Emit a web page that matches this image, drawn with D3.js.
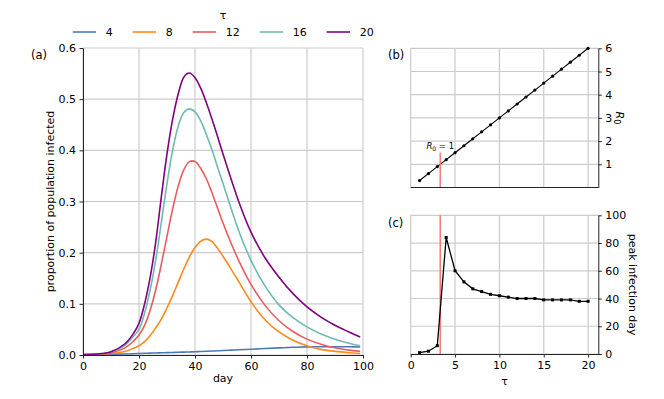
<!DOCTYPE html>
<html>
<head>
<meta charset="utf-8">
<script src="https://cdn.jsdelivr.net/npm/d3@7"></script>
<style>
body { margin: 0; background: #fff; }
text { font-family: "DejaVu Sans", sans-serif; fill: #000; }
</style>
</head>
<body>
<svg id="chart" width="664" height="399"></svg>
<script>
// values
var days = [0, 5, 10, 15, 18, 20, 22, 24, 26, 28, 30, 32, 34, 36, 38, 40, 42, 44, 46, 48, 50, 53, 56, 60, 65, 70, 75, 80, 85, 90, 95, 99];

var tauLegend = [4, 8, 12, 16, 20];
var seriesColors = ['#4a7ab4', '#ff8a1c', '#eb5b5e', '#6fbab0', '#800080'];

var infectedTau4 = [0.0005, 0.001, 0.0015, 0.002, 0.0025, 0.003, 0.0033, 0.0036, 0.004, 0.0043, 0.0046, 0.005, 0.0053, 0.0057, 0.006, 0.0064, 0.0068, 0.0072, 0.0077, 0.0082, 0.0087, 0.0095, 0.0103, 0.0113, 0.0126, 0.0139, 0.015, 0.0158, 0.0162, 0.0162, 0.016, 0.0155];
var infectedTau8 = [0.001, 0.0015, 0.003, 0.007, 0.013, 0.018, 0.026, 0.038, 0.053, 0.07, 0.092, 0.116, 0.142, 0.168, 0.192, 0.21, 0.222, 0.2265, 0.222, 0.209, 0.193, 0.167, 0.14, 0.104, 0.069, 0.045, 0.029, 0.018, 0.011, 0.007, 0.0045, 0.003];
var infectedTau12 = [0.001, 0.0015, 0.004, 0.014, 0.027, 0.039, 0.058, 0.088, 0.128, 0.178, 0.232, 0.285, 0.33, 0.362, 0.378, 0.378, 0.365, 0.345, 0.318, 0.288, 0.258, 0.217, 0.18, 0.138, 0.097, 0.067, 0.046, 0.031, 0.021, 0.014, 0.0095, 0.007];
var infectedTau16 = [0.001, 0.002, 0.006, 0.019, 0.036, 0.05, 0.082, 0.128, 0.187, 0.26, 0.335, 0.4, 0.447, 0.474, 0.481, 0.475, 0.458, 0.432, 0.402, 0.368, 0.335, 0.285, 0.237, 0.185, 0.135, 0.098, 0.073, 0.055, 0.041, 0.031, 0.023, 0.018];
var infectedTau20 = [0.001, 0.002, 0.0065, 0.022, 0.042, 0.062, 0.1, 0.152, 0.222, 0.31, 0.393, 0.46, 0.51, 0.543, 0.551, 0.542, 0.522, 0.494, 0.462, 0.428, 0.393, 0.342, 0.294, 0.24, 0.19, 0.152, 0.12, 0.094, 0.074, 0.058, 0.045, 0.035];
var infectedSeries = [infectedTau4, infectedTau8, infectedTau12, infectedTau16, infectedTau20];

var tauValues = [1, 2, 3, 4, 5, 6, 7, 8, 9, 10, 11, 12, 13, 14, 15, 16, 17, 18, 19, 20];
var r0Values = [0.3, 0.6, 0.9, 1.2, 1.5, 1.8, 2.1, 2.4, 2.7, 3.0, 3.3, 3.6, 3.9, 4.2, 4.5, 4.8, 5.1, 5.4, 5.7, 6.0];
var peakDays = [1, 2, 6, 84, 60, 52, 47, 45, 43, 42, 41, 40, 40, 40, 39, 39, 39, 39, 38, 38];
var tauThreshold = 3.33;

var dayTicks = [0, 20, 40, 60, 80, 100];
var propTicks = [0, 0.1, 0.2, 0.3, 0.4, 0.5, 0.6];
var tauTicks = [0, 5, 10, 15, 20];
var r0Ticks = [1, 2, 3, 4, 5, 6];
var peakTicks = [0, 20, 40, 60, 80, 100];

var svg = d3.select('#chart');
var gridColor = '#cccccc';
var spineColor = '#262626';
var fontSize = '11px';

//style an axis group: spine, ticks, labels
var styleAxis = function(g){
    g.select('.domain').attr('stroke', spineColor).attr('stroke-width', 1);
    g.selectAll('.tick line').attr('stroke', spineColor).attr('stroke-width', 1);
    g.selectAll('.tick text').attr('font-size', fontSize).attr('fill', '#000')
        .style('font-family', '"DejaVu Sans", sans-serif');
};

var drawGrid = function(x, y, xTicks, yTicks){
    var g = svg.append('g').attr('class', 'grid');
    g.selectAll('line.gx').data(xTicks).enter().append('line')
        .attr('class', 'gx')
        .attr('x1', function(d){ return x(d); })
        .attr('x2', function(d){ return x(d); })
        .attr('y1', y.range()[0])
        .attr('y2', y.range()[1])
        .attr('stroke', gridColor).attr('stroke-width', 1.2);
    g.selectAll('line.gy').data(yTicks).enter().append('line')
        .attr('class', 'gy')
        .attr('x1', x.range()[0])
        .attr('x2', x.range()[1])
        .attr('y1', function(d){ return y(d); })
        .attr('y2', function(d){ return y(d); })
        .attr('stroke', gridColor).attr('stroke-width', 1.2);
};

/* ---- panel (a) ---- */
var xa = d3.scaleLinear().domain([0, 100]).range([83, 363]);
var ya = d3.scaleLinear().domain([0, 0.6]).range([355, 48]);

drawGrid(xa, ya, dayTicks, propTicks);

var line = d3.line()
    .x(function(d){ return xa(d[0]); })
    .y(function(d){ return ya(d[1]); })
    .curve(d3.curveCatmullRom.alpha(0.5));

infectedSeries.forEach(function(vals, i){
    svg.append('path')
        .datum(d3.zip(days, vals))
        .attr('d', line)
        .attr('fill', 'none')
        .attr('stroke', seriesColors[i])
        .attr('stroke-width', 1.6);
});

svg.append('g')
    .attr('transform', 'translate(' + xa(0) + ',0)')
    .call(d3.axisLeft(ya).tickValues(propTicks).tickFormat(d3.format('.1f'))
        .tickSize(3.5).tickPadding(3.5).tickSizeOuter(0))
    .call(styleAxis);

svg.append('g')
    .attr('transform', 'translate(0,' + ya(0) + ')')
    .call(d3.axisBottom(xa).tickValues(dayTicks).tickFormat(d3.format('d'))
        .tickSize(3.5).tickPadding(3.5).tickSizeOuter(0))
    .call(styleAxis);

svg.append('text')
    .attr('transform', 'translate(54,' + ((ya(0) + ya(0.6)) / 2) + ') rotate(-90)')
    .attr('text-anchor', 'middle')
    .attr('font-size', fontSize)
    .text('proportion of population infected');

svg.append('text')
    .attr('x', (xa(0) + xa(100)) / 2).attr('y', 382)
    .attr('text-anchor', 'middle')
    .attr('font-size', fontSize)
    .text('day');

svg.append('text').attr('x', 31).attr('y', 59).attr('font-size', '11.5px').text('(a)');

// legend, columns laid out by label width
svg.append('text')
    .attr('x', 223).attr('y', 19)
    .attr('text-anchor', 'middle')
    .attr('font-size', fontSize)
    .text('τ');

var lx = 72.7;
tauLegend.forEach(function(t, i){
    svg.append('line')
        .attr('x1', lx).attr('x2', lx + 23.3)
        .attr('y1', 32).attr('y2', 32)
        .attr('stroke', seriesColors[i]).attr('stroke-width', 1.6);
    var label = svg.append('text')
        .attr('x', lx + 33).attr('y', 36)
        .attr('font-size', fontSize)
        .text(t);
    lx += 33 + label.node().getComputedTextLength() + 20;
});

/* ---- panel (b) ---- */
var xr = d3.scaleLinear().domain([0, 21.15]).range([410.7, 598.3]);
var yb = d3.scaleLinear().domain([0, 6]).range([187.5, 48.3]);

drawGrid(xr, yb, tauTicks, r0Ticks);

svg.append('path')
    .datum(d3.zip(tauValues, r0Values))
    .attr('d', d3.line().x(function(d){ return xr(d[0]); }).y(function(d){ return yb(d[1]); }))
    .attr('fill', 'none').attr('stroke', '#000').attr('stroke-width', 1.1);

svg.selectAll('circle.r0').data(d3.zip(tauValues, r0Values)).enter().append('circle')
    .attr('class', 'r0')
    .attr('cx', function(d){ return xr(d[0]); })
    .attr('cy', function(d){ return yb(d[1]); })
    .attr('r', 1.6).attr('fill', '#000');

svg.append('line')
    .attr('x1', xr(tauThreshold)).attr('x2', xr(tauThreshold))
    .attr('y1', yb(0)).attr('y2', yb(1.5))
    .attr('stroke', '#f47a7a').attr('stroke-width', 1.5);

var r0Label = svg.append('text')
    .attr('x', xr(tauThreshold)).attr('y', yb(1.5) - 4)
    .attr('text-anchor', 'middle')
    .attr('font-size', '8.5px');
r0Label.append('tspan').attr('font-style', 'italic').text('R');
r0Label.append('tspan').attr('font-size', '6px').attr('dy', 2).text('0');
r0Label.append('tspan').attr('dy', -2).text(' = 1');

svg.append('g')
    .attr('transform', 'translate(' + xr.range()[1] + ',0)')
    .call(d3.axisRight(yb).tickValues(r0Ticks).tickFormat(d3.format('d'))
        .tickSize(3.5).tickPadding(3.5).tickSizeOuter(0))
    .call(styleAxis);

svg.append('line')
    .attr('x1', xr.range()[0]).attr('x2', xr.range()[1])
    .attr('y1', yb(0)).attr('y2', yb(0))
    .attr('stroke', spineColor).attr('stroke-width', 1);

var r0Axis = svg.append('text')
    .attr('transform', 'translate(616,' + ((yb(0) + yb(6)) / 2) + ') rotate(90)')
    .attr('text-anchor', 'middle')
    .attr('font-size', fontSize);
r0Axis.append('tspan').attr('font-style', 'italic').text('R');
r0Axis.append('tspan').attr('font-size', '8px').attr('dy', 2.5).text('0');

svg.append('text').attr('x', 388).attr('y', 59).attr('font-size', '11.5px').text('(b)');

/* ---- panel (c) ---- */
var yc = d3.scaleLinear().domain([0, 100]).range([354, 215.3]);

drawGrid(xr, yc, tauTicks, peakTicks);

svg.append('line')
    .attr('x1', xr(tauThreshold)).attr('x2', xr(tauThreshold))
    .attr('y1', yc(0)).attr('y2', yc(100))
    .attr('stroke', '#f47a7a').attr('stroke-width', 1.5);

svg.append('path')
    .datum(d3.zip(tauValues, peakDays))
    .attr('d', d3.line().x(function(d){ return xr(d[0]); }).y(function(d){ return yc(d[1]); }))
    .attr('fill', 'none').attr('stroke', '#000').attr('stroke-width', 1.3);

svg.selectAll('rect.peak').data(d3.zip(tauValues, peakDays)).enter().append('rect')
    .attr('class', 'peak')
    .attr('x', function(d){ return xr(d[0]) - 1.5; })
    .attr('y', function(d){ return yc(d[1]) - 1.5; })
    .attr('width', 3).attr('height', 3).attr('fill', '#000');

svg.append('g')
    .attr('transform', 'translate(' + xr.range()[1] + ',0)')
    .call(d3.axisRight(yc).tickValues(peakTicks).tickFormat(d3.format('d'))
        .tickSize(3.5).tickPadding(3.5).tickSizeOuter(0))
    .call(styleAxis);

svg.append('g')
    .attr('transform', 'translate(0,' + yc(0) + ')')
    .call(d3.axisBottom(xr).tickValues(tauTicks).tickFormat(d3.format('d'))
        .tickSize(3.5).tickPadding(3.5).tickSizeOuter(0))
    .call(styleAxis);

svg.append('text')
    .attr('x', (xr.range()[0] + xr.range()[1]) / 2).attr('y', 385)
    .attr('text-anchor', 'middle')
    .attr('font-size', fontSize)
    .text('τ');

svg.append('text')
    .attr('transform', 'translate(629,' + ((yc(0) + yc(100)) / 2) + ') rotate(90)')
    .attr('text-anchor', 'middle')
    .attr('font-size', fontSize)
    .text('peak infection day');

svg.append('text').attr('x', 388).attr('y', 227).attr('font-size', '11.5px').text('(c)');
</script>
</body>
</html>
